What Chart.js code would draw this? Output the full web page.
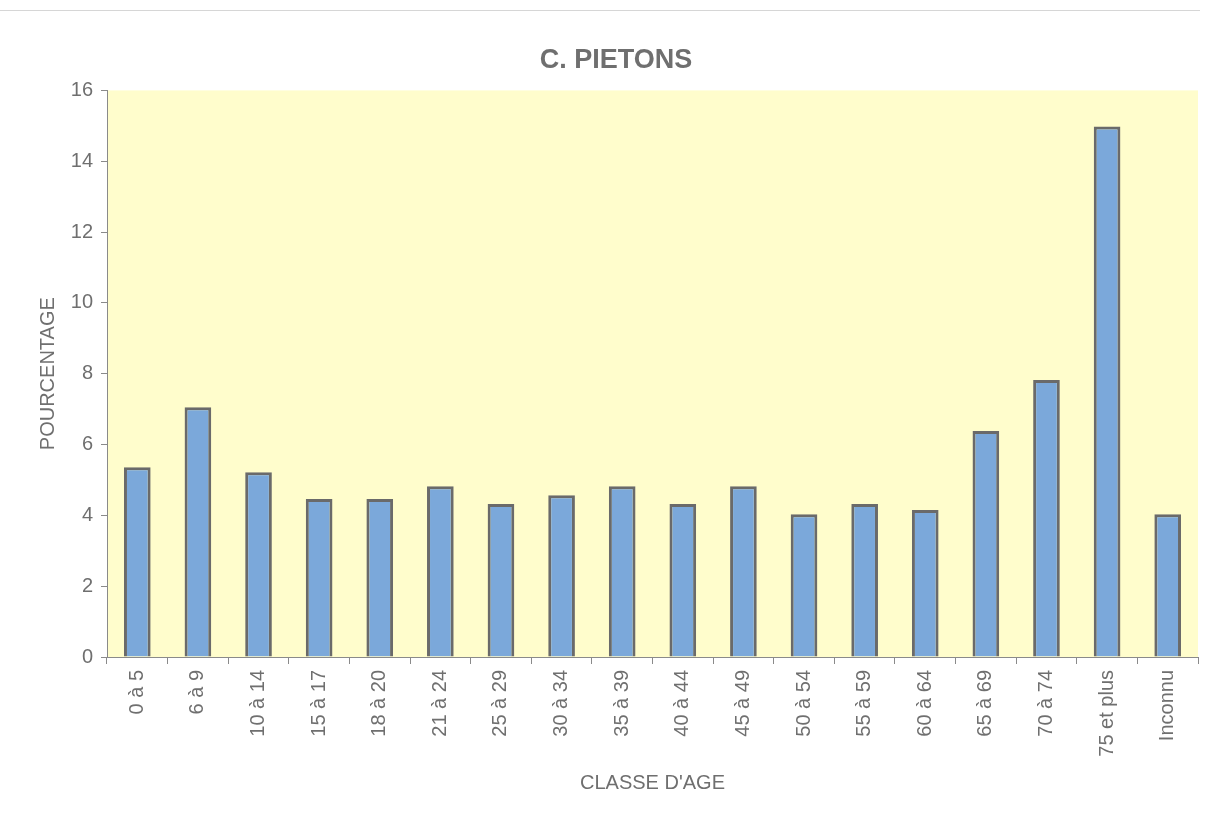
<!DOCTYPE html>
<html>
<head>
<meta charset="utf-8">
<script src="https://cdn.jsdelivr.net/npm/chart.js@4"></script>
<style>
  html, body { margin: 0; padding: 0; background: #fff; }
  #wrap { position: relative; width: 1209px; height: 819px; }
  #wrap::before {
    content: ""; position: absolute; left: 0; top: 10px; width: 1200px;
    height: 1px; background: #d6d6d6;
  }
</style>
</head>
<body>
<div id="wrap"><canvas id="chart" width="1209" height="819"></canvas></div>
<script>
// age classes and percentage of pedestrians
const classes = ["0 à 5", "6 à 9", "10 à 14", "15 à 17", "18 à 20", "21 à 24", "25 à 29",
  "30 à 34", "35 à 39", "40 à 44", "45 à 49", "50 à 54", "55 à 59", "60 à 64",
  "65 à 69", "70 à 74", "75 et plus", "Inconnu"];
const pourcentage = [5.36, 7.05, 5.22, 4.46, 4.46, 4.82, 4.32, 4.57, 4.82, 4.32, 4.82,
  4.03, 4.32, 4.15, 6.38, 7.82, 14.98, 4.03];
const yTicks = [0, 2, 4, 6, 8, 10, 12, 14, 16];

const grey = "#6f6f6f";
const font = { family: "'Liberation Sans', Arial, sans-serif", size: 20 };

// yellow plot background
const plotBg = {
  id: "plotBg",
  beforeDraw(chart) {
    const { ctx, chartArea: a } = chart;
    ctx.save();
    ctx.fillStyle = "#fffdcc";
    ctx.fillRect(a.left, a.top, a.right - a.left, a.bottom - a.top);
    ctx.restore();
  }
};

new Chart(document.getElementById("chart"), {
  type: "bar",
  data: {
    labels: classes,
    datasets: [{
      data: pourcentage,
      backgroundColor: "#7ba8da",
      borderColor: "#6a6a6a",
      borderWidth: 3,
      categoryPercentage: 1,
      barPercentage: 0.44
    }]
  },
  options: {
    responsive: false,
    animation: false,
    layout: { padding: { left: 34, right: 11, top: 0, bottom: 0 } },
    plugins: {
      legend: { display: false },
      tooltip: { enabled: false },
      title: {
        display: true,
        text: "C. PIETONS",
        color: grey,
        font: { family: font.family, size: 27, weight: "bold" },
        padding: { top: 44, bottom: 14 }
      }
    },
    scales: {
      x: {
        afterFit(scale) { scale.height = 162; },
        grid: { drawOnChartArea: false, tickLength: 7, color: "#8a8a8a" },
        border: { color: "#8a8a8a" },
        ticks: { color: grey, font: font, minRotation: 90, maxRotation: 90, padding: 6 },
        title: {
          display: true, text: "CLASSE D'AGE", color: grey, font: font,
          padding: { top: 0, bottom: 24 }
        }
      },
      y: {
        min: 0,
        max: 16,
        afterFit(scale) { scale.width = 73; },
        afterBuildTicks(scale) { scale.ticks = yTicks.map(v => ({ value: v })); },
        grid: { drawOnChartArea: false, tickLength: 6, color: "#8a8a8a" },
        border: { color: "#8a8a8a" },
        ticks: { color: grey, font: font, padding: 8 },
        title: {
          display: true, text: "POURCENTAGE", color: grey, font: font,
          padding: { top: 2, bottom: 0 }
        }
      }
    }
  },
  plugins: [plotBg]
});
</script>
</body>
</html>
